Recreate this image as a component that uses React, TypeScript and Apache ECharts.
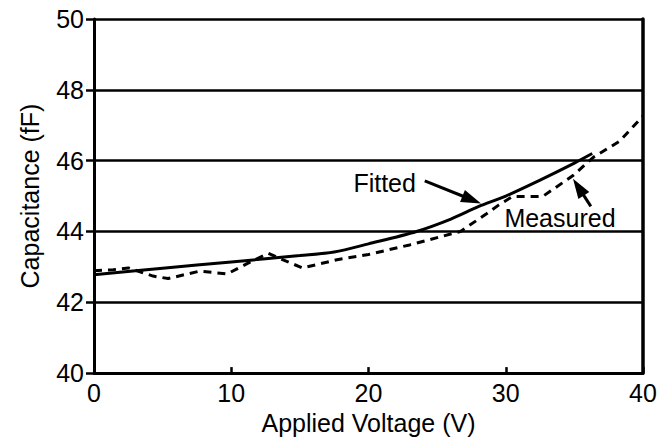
import React, { useEffect, useRef } from "react";
import * as echarts from "echarts";

const fittedVoltage = [0, 5, 10, 15, 17.5, 20, 23.5, 26, 28, 30, 32.5, 35, 36.3];
const fittedCap = [42.78, 42.96, 43.14, 43.32, 43.42, 43.65, 44.0, 44.35, 44.7, 45.0, 45.45, 45.93, 46.2];

const measuredVoltage = [0, 1.4, 2.5, 4.3, 5.4, 7.7, 9.7, 11.5, 12.7, 14, 15.2, 17.7, 20, 23, 26.7, 28.6, 29.5, 30.5, 32.7, 34.9, 36.4, 38.3, 40];
const measuredCap = [42.89, 42.92, 42.97, 42.74, 42.67, 42.88, 42.8, 43.16, 43.38, 43.16, 42.97, 43.2, 43.35, 43.62, 44.0, 44.5, 44.75, 44.99, 44.99, 45.58, 46.1, 46.55, 47.26];

const xTicks = [0, 10, 20, 30, 40];
const yTicks = [40, 42, 44, 46, 48, 50];

// annotation anchors in data coordinates
const fittedLabelAt = [18.9, 45.38];
const fittedArrowFrom = [24.1, 45.43];
const fittedArrowTo = [28.2, 44.79];
const measuredLabelAt = [29.9, 44.37];
const measuredArrowFrom = [36.2, 44.71];
const measuredArrowTo = [34.9, 45.49];

const FONT = "'Liberation Sans', Arial, Helvetica, sans-serif";
const FS = 25;

function arrow(p0: number[], p1: number[]) {
  const dx = p1[0] - p0[0];
  const dy = p1[1] - p0[1];
  const len = Math.sqrt(dx * dx + dy * dy);
  const ux = dx / len;
  const uy = dy / len;
  const headLen = 20;
  const headW = 6.5;
  const bx = p1[0] - ux * headLen;
  const by = p1[1] - uy * headLen;
  return [
    {
      type: "line",
      shape: { x1: p0[0], y1: p0[1], x2: bx + ux * 2, y2: by + uy * 2 },
      style: { stroke: "#000", lineWidth: 3 },
      z: 100,
    },
    {
      type: "polygon",
      shape: {
        points: [
          [p1[0], p1[1]],
          [bx - uy * headW, by + ux * headW],
          [bx + uy * headW, by - ux * headW],
        ],
      },
      style: { fill: "#000" },
      z: 100,
    },
  ];
}

export default function App() {
  const ref = useRef<HTMLDivElement>(null);
  useEffect(() => {
    if (!ref.current) return;
    const chart = echarts.init(ref.current, null, { renderer: "svg" });
    const option: any = {
      animation: false,
      backgroundColor: "#fff",
      grid: { left: 94, right: 24, top: 19, bottom: 64, show: false },
      xAxis: {
        type: "value",
        min: 0,
        max: 40,
        interval: 10,
        name: "Applied Voltage (V)",
        nameLocation: "middle",
        nameGap: 36,
        nameTextStyle: { fontFamily: FONT, fontSize: FS, color: "#000" },
        axisLine: { show: true, lineStyle: { color: "#000", width: 3 } },
        axisTick: { show: true, inside: true, length: 6, lineStyle: { color: "#000", width: 2.5 } },
        axisLabel: {
          margin: 7,
          fontFamily: FONT,
          fontSize: FS,
          color: "#000",
          formatter: (v: number) => (xTicks.includes(v) ? String(v) : ""),
        },
        splitLine: { show: false },
      },
      yAxis: [
        {
          type: "value",
          min: 40,
          max: 50,
          interval: 2,
          name: "Capacitance (fF)",
          nameLocation: "middle",
          nameGap: 52,
          nameTextStyle: { fontFamily: FONT, fontSize: FS, color: "#000" },
          axisLine: { show: true, lineStyle: { color: "#000", width: 3 } },
          axisTick: { show: true, inside: false, length: 8, lineStyle: { color: "#000", width: 2.5 } },
          axisLabel: {
            margin: 10,
            fontFamily: FONT,
            fontSize: FS,
            color: "#000",
            formatter: (v: number) => (yTicks.includes(v) ? String(v) : ""),
          },
          splitLine: { show: true, lineStyle: { color: "#000", width: 2.5 } },
        },
        {
          type: "value",
          min: 40,
          max: 50,
          interval: 2,
          position: "right",
          axisLine: { show: true, lineStyle: { color: "#000", width: 3.5 } },
          axisTick: { show: false },
          axisLabel: { show: false },
          splitLine: { show: false },
        },
      ],
      series: [
        {
          name: "Fitted",
          type: "line",
          data: fittedVoltage.map((v, i) => [v, fittedCap[i]]),
          showSymbol: false,
          smooth: 0.3,
          lineStyle: { color: "#000", width: 3, type: "solid" },
          z: 5,
        },
        {
          name: "Measured",
          type: "line",
          data: measuredVoltage.map((v, i) => [v, measuredCap[i]]),
          showSymbol: false,
          lineStyle: { color: "#000", width: 3, type: [8, 6] },
          z: 4,
        },
      ],
    };
    chart.setOption(option);
    const px = (p: number[]) => chart.convertToPixel({ gridIndex: 0 }, p) as number[];
    const fl = px(fittedLabelAt);
    const ml = px(measuredLabelAt);
    chart.setOption({
      graphic: [
        {
          type: "text",
          x: fl[0],
          y: fl[1],
          style: { text: "Fitted", fontFamily: FONT, fontSize: FS, fill: "#000", align: "left", verticalAlign: "middle" },
          z: 100,
        },
        {
          type: "text",
          x: ml[0],
          y: ml[1],
          style: { text: "Measured", fontFamily: FONT, fontSize: FS, fill: "#000", align: "left", verticalAlign: "middle" },
          z: 100,
        },
        ...arrow(px(fittedArrowFrom), px(fittedArrowTo)),
        ...arrow(px(measuredArrowFrom), px(measuredArrowTo)),
      ],
    });
    return () => chart.dispose();
  }, []);
  return <div ref={ref} style={{ width: 667, height: 440, position: "absolute", left: 0, top: 0 }} />;
}
